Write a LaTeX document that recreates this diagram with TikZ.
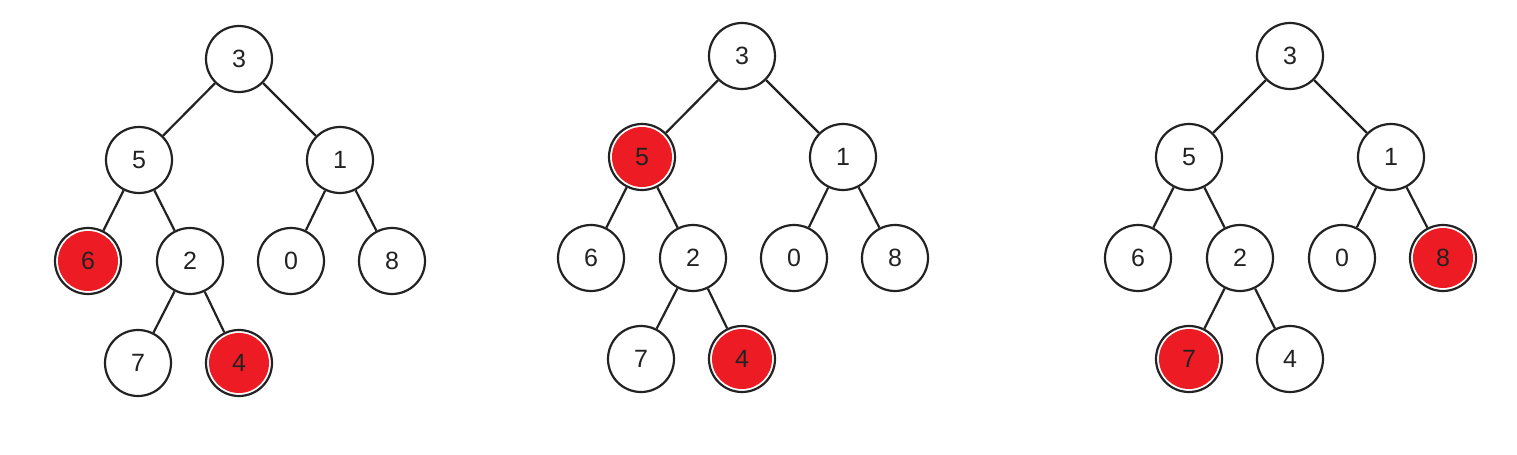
\documentclass[tikz,border=0pt]{standalone}
\usepackage{fontspec}
\setmainfont{Liberation Sans}
\definecolor{hlred}{HTML}{ED1C24}
\definecolor{ink}{HTML}{222222}
\begin{document}
\begin{tikzpicture}[x=0.5pt,y=-0.5pt,
  nd/.style={circle,draw=ink,line width=1.1pt,fill=white,minimum size=33pt,inner sep=0pt,text=ink,font=\fontsize{12.5}{14}\selectfont},
  hl/.style={nd,path picture={\fill[hlred] (path picture bounding box.center) circle (15pt);}},
  ed/.style={draw=ink,line width=1.1pt}]
\useasboundingbox (0,0) rectangle (1517,455);
% tree 1
\begin{scope}[shift={(239,59)}]
\node[nd] (a3) at (0,0) {3};
\node[nd] (a5) at (-100,101) {5};
\node[nd] (a1) at (101,101) {1};
\node[hl] (a6) at (-151,202) {6};
\node[nd] (a2) at (-49,202) {2};
\node[nd] (a0) at (52,202) {0};
\node[nd] (a8) at (153,202) {8};
\node[nd] (a7) at (-101,304) {7};
\node[hl] (a4) at (0,304) {4};
\end{scope}
\draw[ed] (a3)--(a5) (a3)--(a1) (a5)--(a6) (a5)--(a2) (a1)--(a0) (a1)--(a8) (a2)--(a7) (a2)--(a4);
% tree 2
\begin{scope}[shift={(742,56)}]
\node[nd] (b3) at (0,0) {3};
\node[hl] (b5) at (-100,101) {5};
\node[nd] (b1) at (101,101) {1};
\node[nd] (b6) at (-151,202) {6};
\node[nd] (b2) at (-49,202) {2};
\node[nd] (b0) at (52,202) {0};
\node[nd] (b8) at (153,202) {8};
\node[nd] (b7) at (-101,303) {7};
\node[hl] (b4) at (0,303) {4};
\end{scope}
\draw[ed] (b3)--(b5) (b3)--(b1) (b5)--(b6) (b5)--(b2) (b1)--(b0) (b1)--(b8) (b2)--(b7) (b2)--(b4);
% tree 3
\begin{scope}[shift={(1290,56)}]
\node[nd] (c3) at (0,0) {3};
\node[nd] (c5) at (-101,101) {5};
\node[nd] (c1) at (101,101) {1};
\node[nd] (c6) at (-152,202) {6};
\node[nd] (c2) at (-50,202) {2};
\node[nd] (c0) at (52,202) {0};
\node[hl] (c8) at (153,202) {8};
\node[hl] (c7) at (-101,303) {7};
\node[nd] (c4) at (0,303) {4};
\end{scope}
\draw[ed] (c3)--(c5) (c3)--(c1) (c5)--(c6) (c5)--(c2) (c1)--(c0) (c1)--(c8) (c2)--(c7) (c2)--(c4);
\end{tikzpicture}
\end{document}
